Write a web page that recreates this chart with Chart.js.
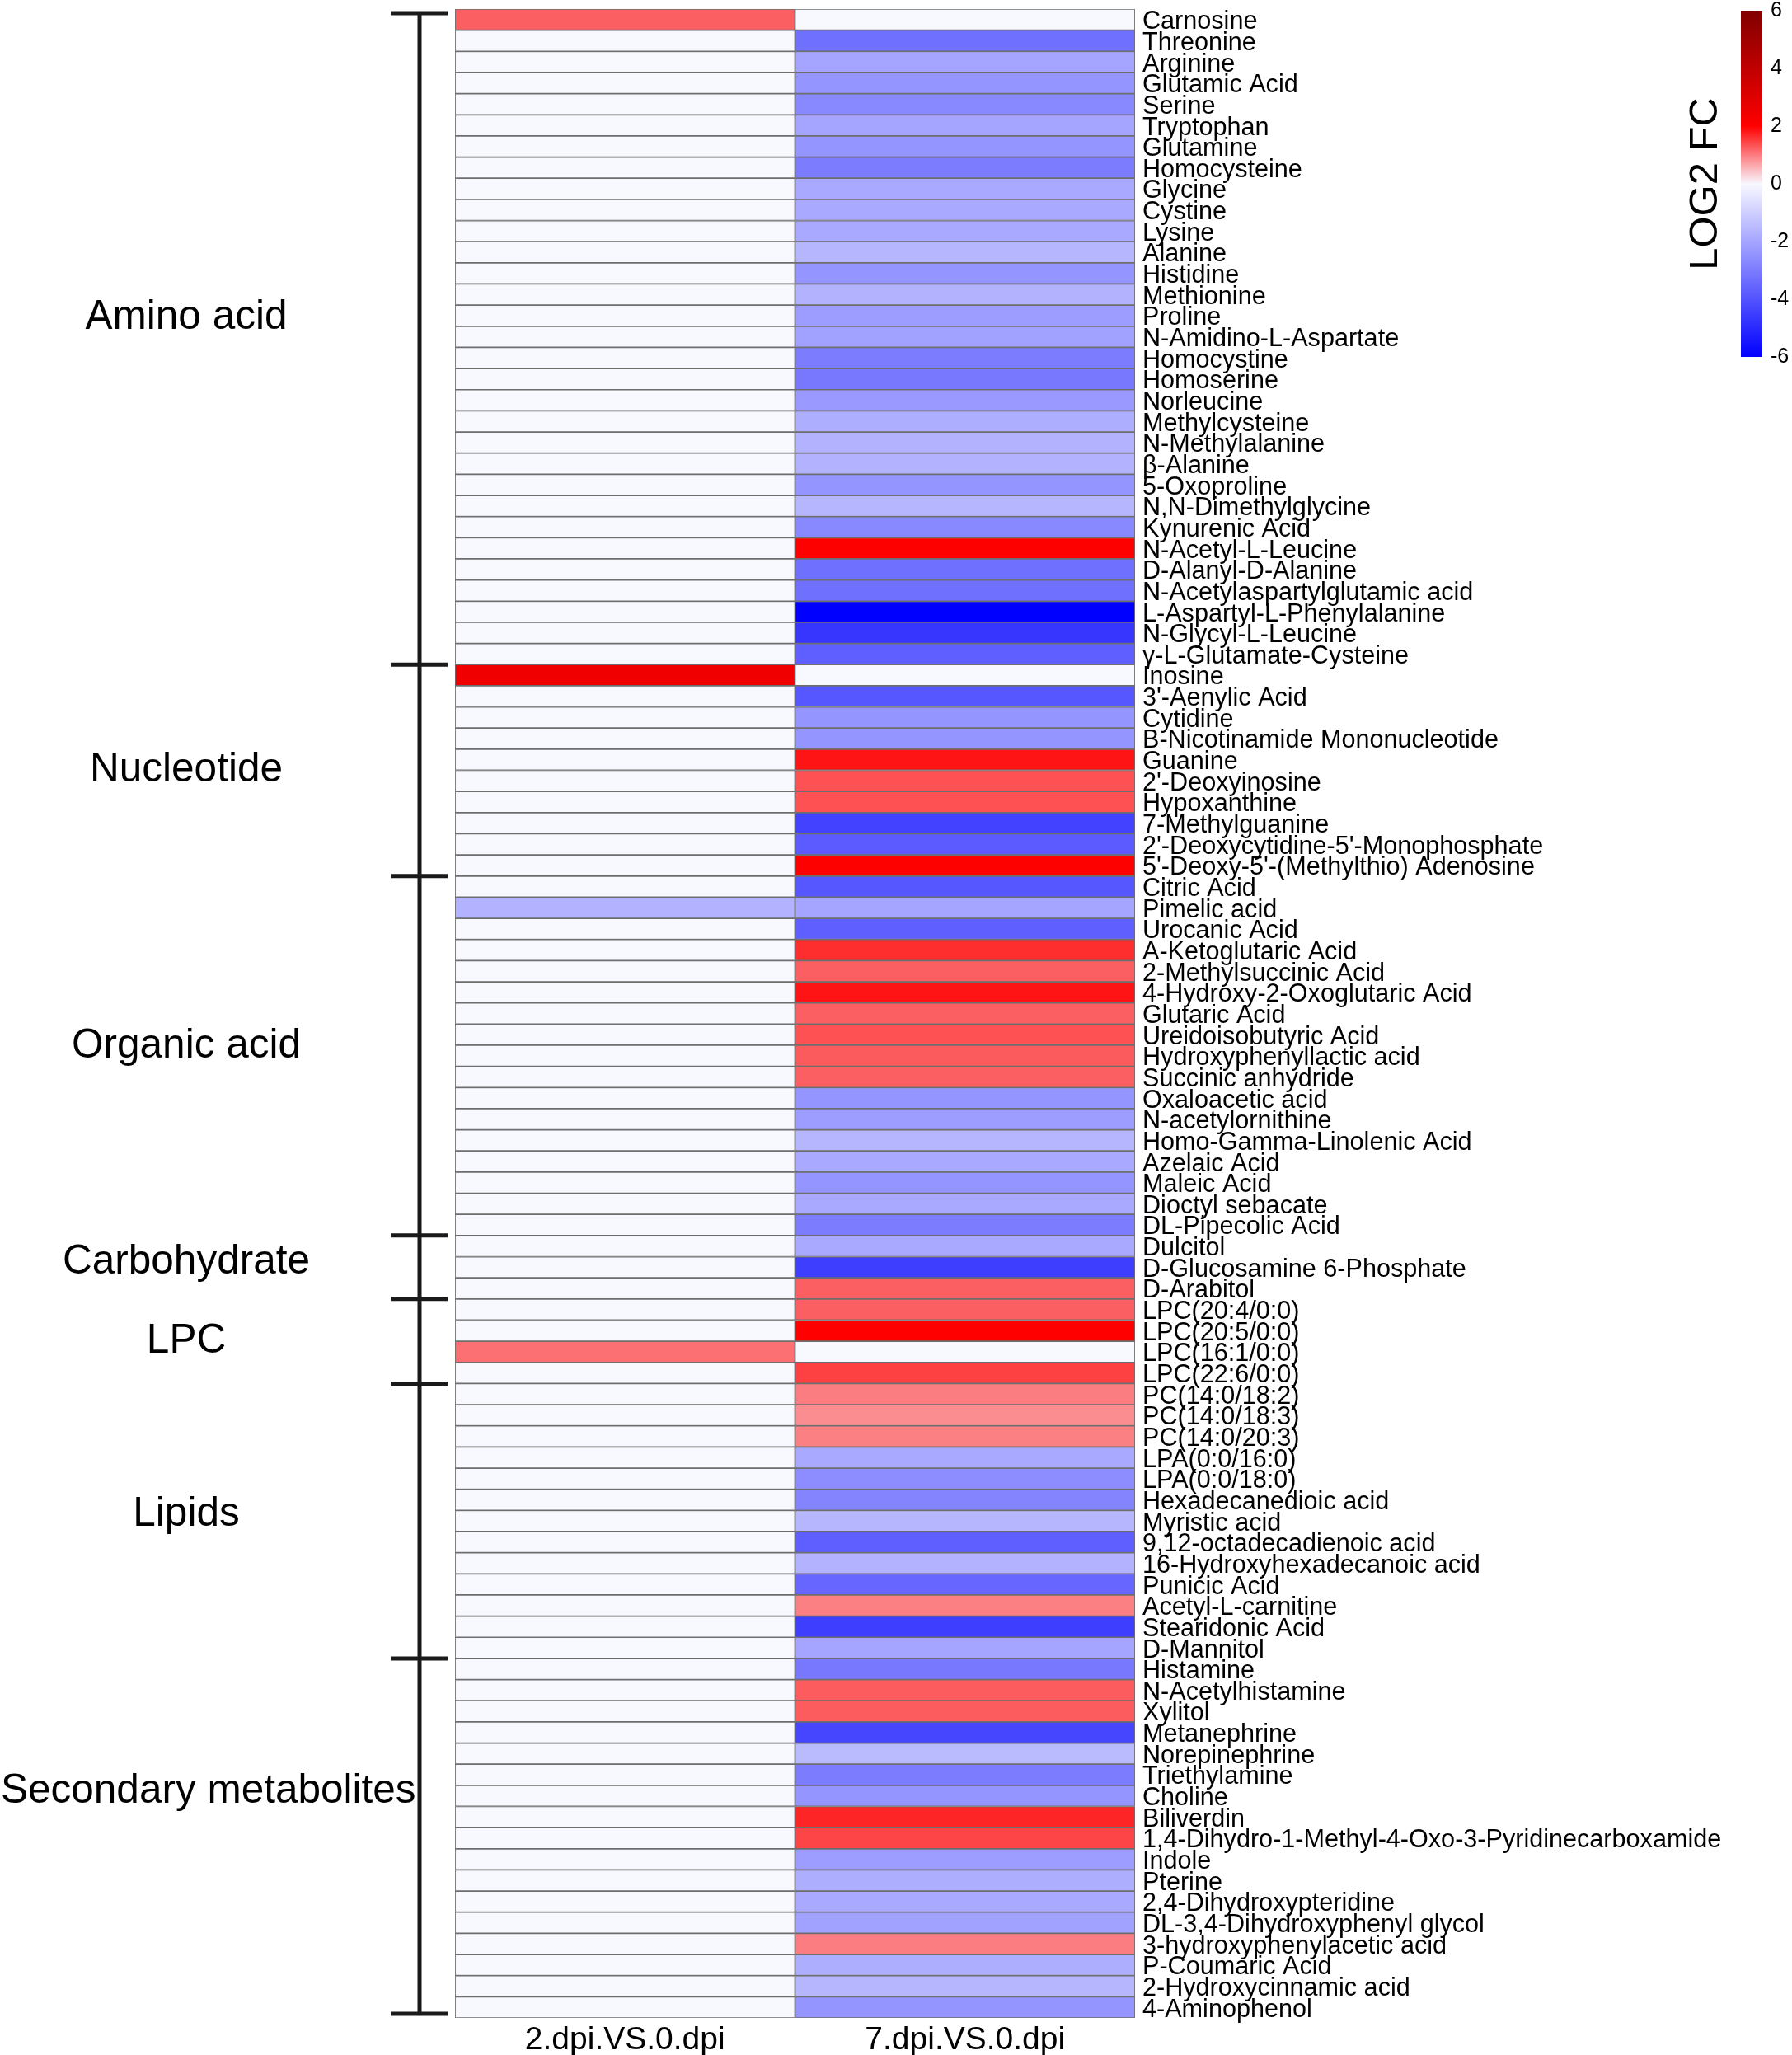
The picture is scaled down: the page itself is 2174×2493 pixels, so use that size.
<!DOCTYPE html>
<html>
<head>
<meta charset="utf-8">
<title>LOG2 FC heatmap</title>
<script src="https://cdn.jsdelivr.net/npm/chart.js@4/dist/chart.umd.min.js"></script>
<style>
  body { margin: 0; background: #fff; }
  #wrap { position: relative; width: 2174px; height: 2493px; }
  #heat { position: absolute; left: 0; top: 0; }
  #bar { position: absolute; left: 2040px; top: 0; }
</style>
</head>
<body>
<div id="wrap">
  <canvas id="heat" width="2174" height="2493"></canvas>
  <canvas id="bar" width="134" height="450"></canvas>
</div>
<script>
// metabolites, top to bottom
const metabolites = [
  "Carnosine", "Threonine", "Arginine", "Glutamic Acid", "Serine", "Tryptophan", "Glutamine",
  "Homocysteine", "Glycine", "Cystine", "Lysine", "Alanine", "Histidine", "Methionine", "Proline",
  "N-Amidino-L-Aspartate", "Homocystine", "Homoserine", "Norleucine", "Methylcysteine",
  "N-Methylalanine", "β-Alanine", "5-Oxoproline", "N,N-Dimethylglycine", "Kynurenic Acid",
  "N-Acetyl-L-Leucine", "D-Alanyl-D-Alanine", "N-Acetylaspartylglutamic acid",
  "L-Aspartyl-L-Phenylalanine", "N-Glycyl-L-Leucine", "γ-L-Glutamate-Cysteine",
  "Inosine", "3'-Aenylic Acid", "Cytidine", "B-Nicotinamide Mononucleotide", "Guanine",
  "2'-Deoxyinosine", "Hypoxanthine", "7-Methylguanine", "2'-Deoxycytidine-5'-Monophosphate",
  "5'-Deoxy-5'-(Methylthio) Adenosine",
  "Citric Acid", "Pimelic acid", "Urocanic Acid", "A-Ketoglutaric Acid", "2-Methylsuccinic Acid",
  "4-Hydroxy-2-Oxoglutaric Acid", "Glutaric Acid", "Ureidoisobutyric Acid", "Hydroxyphenyllactic acid",
  "Succinic anhydride", "Oxaloacetic acid", "N-acetylornithine", "Homo-Gamma-Linolenic Acid",
  "Azelaic Acid", "Maleic Acid", "Dioctyl sebacate", "DL-Pipecolic Acid",
  "Dulcitol", "D-Glucosamine 6-Phosphate", "D-Arabitol",
  "LPC(20:4/0:0)", "LPC(20:5/0:0)", "LPC(16:1/0:0)", "LPC(22:6/0:0)",
  "PC(14:0/18:2)", "PC(14:0/18:3)", "PC(14:0/20:3)", "LPA(0:0/16:0)", "LPA(0:0/18:0)",
  "Hexadecanedioic acid", "Myristic acid", "9,12-octadecadienoic acid", "16-Hydroxyhexadecanoic acid",
  "Punicic Acid", "Acetyl-L-carnitine", "Stearidonic Acid", "D-Mannitol",
  "Histamine", "N-Acetylhistamine", "Xylitol", "Metanephrine", "Norepinephrine", "Triethylamine",
  "Choline", "Biliverdin", "1,4-Dihydro-1-Methyl-4-Oxo-3-Pyridinecarboxamide", "Indole", "Pterine",
  "2,4-Dihydroxypteridine", "DL-3,4-Dihydroxyphenyl glycol", "3-hydroxyphenylacetic acid",
  "P-Coumaric Acid", "2-Hydroxycinnamic acid", "4-Aminophenol"
];

const groupNames = ["Amino acid", "Nucleotide", "Organic acid", "Carbohydrate", "LPC", "Lipids", "Secondary metabolites"];
const groupSizes = [31, 10, 17, 3, 4, 13, 17];

const columns = ["2.dpi.VS.0.dpi", "7.dpi.VS.0.dpi"];

// log2 fold change, 2 dpi vs 0 dpi
const fc2dpi = [
  1.23, 0, 0, 0, 0, 0, 0, 0, 0, 0, 0, 0, 0, 0, 0, 0, 0, 0, 0, 0, 0, 0, 0, 0, 0, 0, 0, 0, 0, 0, 0,
  2.47, 0, 0, 0, 0, 0, 0, 0, 0, 0,
  0, -1.7, 0, 0, 0, 0, 0, 0, 0, 0, 0, 0, 0, 0, 0, 0, 0,
  0, 0, 0,
  0, 0, 1.1, 0,
  0, 0, 0, 0, 0, 0, 0, 0, 0, 0, 0, 0, 0,
  0, 0, 0, 0, 0, 0, 0, 0, 0, 0, 0, 0, 0, 0, 0, 0, 0
];

// log2 fold change, 7 dpi vs 0 dpi
const fc7dpi = [
  0, -3.3, -2.0, -2.4, -2.7, -2.0, -2.4, -3.0, -1.9, -1.9, -1.9, -1.6, -2.4, -1.7, -2.2,
  -2.1, -3.0, -3.1, -2.3, -1.8, -1.7, -1.7, -2.4, -1.6, -2.7, 2.05, -3.3, -3.3, -6.0, -4.7, -3.7,
  0, -3.9, -2.4, -2.4, 1.84, 1.35, 1.35, -4.4, -3.8, 2.05,
  -3.9, -2.0, -3.7, 1.64, 1.23, 1.84, 1.23, 1.35, 1.27, 1.23, -2.4, -2.2, -1.6, -1.9, -2.4, -1.9, -3.0,
  -1.9, -4.5, 1.23,
  1.23, 2.0, 0, 1.48,
  0.99, 0.87, 0.97, -1.9, -2.6, -2.8, -1.6, -3.7, -1.7, -3.5, 0.97, -4.5, -2.0,
  -3.1, 1.26, 1.26, -4.3, -1.5, -3.0, -2.4, 1.7, 1.44, -2.2, -1.8, -1.9, -2.1, 0.99, -1.8, -1.6, -2.4
];

const legendTicks = [-6, -4, -2, 0, 2, 4, 6];

const FONT = "'Liberation Sans', Arial, Helvetica, sans-serif";

// blue - white - red - dark red
function fcColor(v) {
  const white = [248, 248, 255], blue = [0, 0, 255], red = [255, 0, 0], dark = [128, 0, 0];
  let a, b, t;
  if (v <= 0) { a = white; b = blue; t = Math.min(-v / 6, 1); }
  else if (v <= 2) { a = white; b = red; t = v / 2; }
  else { a = red; b = dark; t = Math.min((v - 2) / 4, 1); }
  const c = a.map((x, i) => Math.round(x + (b[i] - x) * t));
  return `rgb(${c[0]},${c[1]},${c[2]})`;
}

// no extra room for the first/last tick label
const noEdgePad = s => { s.paddingTop = 0; s.paddingBottom = 0; };

const groupBrackets = {
  id: "groupBrackets",
  afterDraw(chart) {
    const { ctx, chartArea, scales: { y } } = chart;
    const step = y.getPixelForValue(1) - y.getPixelForValue(0);
    const edge = i => y.getPixelForValue(i) - step / 2;
    const labelShift = [-0.9, 0, -0.45, -0.25, 0, -0.3, -2.2];
    const x = chartArea.left - 43;
    const top = edge(0) + 5, bottom = edge(metabolites.length) - 5;

    ctx.save();
    ctx.strokeStyle = "#1a1a1a";
    ctx.lineWidth = 5;
    ctx.beginPath();
    ctx.moveTo(x, top);
    ctx.lineTo(x, bottom);
    let start = 0;
    const bounds = [0];
    groupSizes.forEach(n => { start += n; bounds.push(start); });
    bounds.forEach(b => {
      const yy = Math.min(Math.max(edge(b), top), bottom);
      ctx.moveTo(x - 35, yy);
      ctx.lineTo(x + 34, yy);
    });
    ctx.stroke();

    ctx.fillStyle = "#000";
    ctx.font = `49.5px ${FONT}`;
    ctx.textAlign = "center";
    ctx.textBaseline = "middle";
    groupNames.forEach((name, i) => {
      const mid = (edge(bounds[i]) + edge(bounds[i + 1])) / 2 + labelShift[i] * step;
      const w = ctx.measureText(name).width;
      const cx = Math.max(226, w / 2 + 1);
      ctx.fillText(name, cx, mid);
    });
    ctx.restore();
  }
};

new Chart(document.getElementById("heat"), {
  type: "bar",
  data: {
    labels: metabolites,
    datasets: [fc2dpi, fc7dpi].map((vals, col) => ({
      label: columns[col],
      data: vals.map(() => [col, col + 1]),
      backgroundColor: vals.map(fcColor),
      borderColor: "rgb(110,110,110)",
      borderWidth: 1.2,
      borderSkipped: false,
      grouped: false,
      barPercentage: 1,
      categoryPercentage: 1
    }))
  },
  options: {
    indexAxis: "y",
    responsive: false,
    animation: false,
    devicePixelRatio: 1,
    layout: { padding: { left: 552, top: 11, right: 0, bottom: 0 } },
    plugins: { legend: { display: false }, tooltip: { enabled: false } },
    scales: {
      x: {
        type: "linear",
        min: 0,
        max: 2,
        grid: { display: false, drawTicks: false },
        border: { display: false },
        afterBuildTicks: s => { s.ticks = columns.map((c, i) => ({ value: i + 0.5 })); },
        afterFit: s => { s.height = 45; s.paddingLeft = 0; s.paddingRight = 0; },
        ticks: {
          autoSkip: false,
          maxRotation: 0,
          padding: 4,
          color: "#000",
          font: { family: FONT, size: 39 },
          callback: v => columns[Math.floor(v)]
        }
      },
      y: {
        position: "right",
        grid: { display: false, drawTicks: false },
        border: { display: false },
        afterFit: s => { s.width = 797; noEdgePad(s); },
        ticks: {
          autoSkip: false,
          padding: 9,
          labelOffset: 3,
          color: "#000",
          font: { family: FONT, size: 30.6 }
        }
      }
    }
  },
  plugins: [groupBrackets]
});

new Chart(document.getElementById("bar"), {
  type: "bar",
  data: {
    labels: ["LOG2 FC"],
    datasets: [{
      data: [[legendTicks[0], legendTicks[legendTicks.length - 1]]],
      yAxisID: "y",
      barPercentage: 1,
      categoryPercentage: 1,
      borderWidth: 0,
      backgroundColor: ctx => {
        const { chart } = ctx;
        if (!chart.chartArea) return null;
        const ys = chart.scales.y;
        const lo = legendTicks[0], hi = legendTicks[legendTicks.length - 1];
        const g = chart.ctx.createLinearGradient(0, ys.getPixelForValue(lo), 0, ys.getPixelForValue(hi));
        for (let v = lo; v <= hi; v += 0.25) g.addColorStop((v - lo) / (hi - lo), fcColor(v));
        return g;
      }
    }]
  },
  options: {
    responsive: false,
    animation: false,
    devicePixelRatio: 1,
    layout: { padding: { top: 13, bottom: 17, left: 0, right: 0 } },
    plugins: { legend: { display: false }, tooltip: { enabled: false } },
    scales: {
      x: { display: false },
      y: {
        position: "right",
        min: -6,
        max: 6,
        grid: { display: false, drawTicks: false },
        border: { display: false },
        afterBuildTicks: s => { s.ticks = legendTicks.map(v => ({ value: v })); },
        afterFit: s => { s.width = 36; noEdgePad(s); },
        ticks: { padding: 10, color: "#000", font: { family: FONT, size: 25 } }
      },
      yTitle: {
        type: "linear",
        position: "left",
        min: -6,
        max: 6,
        grid: { display: false, drawTicks: false },
        border: { display: false },
        ticks: { display: false },
        afterFit: s => { s.width = 72; noEdgePad(s); },
        title: { display: true, text: "LOG2 FC", color: "#000", padding: 0, font: { family: FONT, size: 49 } }
      }
    }
  }
});
</script>
</body>
</html>
